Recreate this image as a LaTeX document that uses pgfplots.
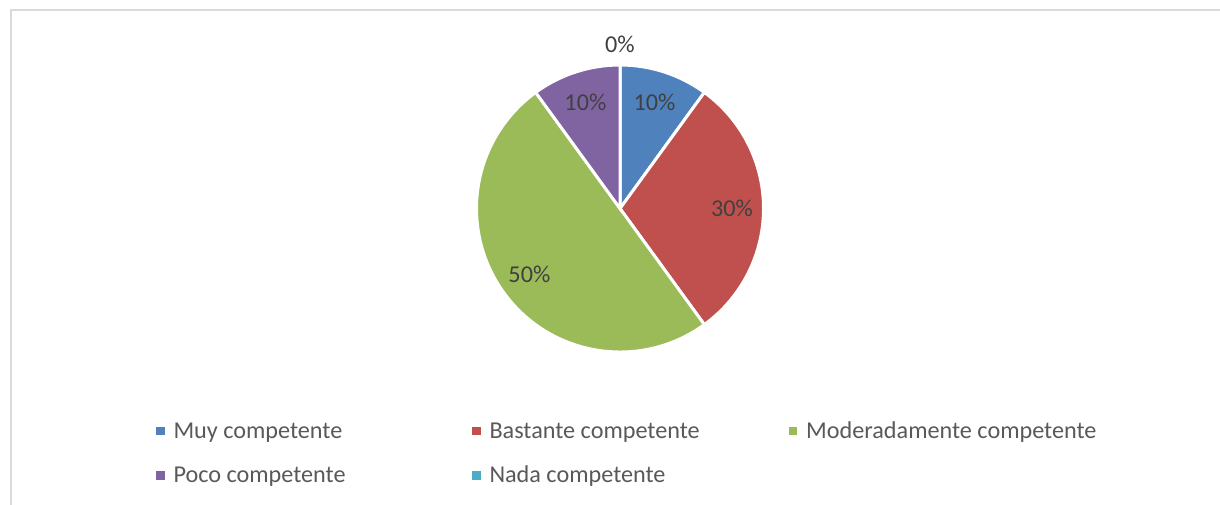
\documentclass[border=0pt]{standalone}
\usepackage{pgfplots}
\usepackage{pgfplotstable}
\pgfplotsset{compat=1.18}
\usepackage{fontspec}
\setmainfont{Carlito}

\definecolor{cMuy}{HTML}{4F81BD}
\definecolor{cBas}{HTML}{C0504D}
\definecolor{cMod}{HTML}{9BBB59}
\definecolor{cPoc}{HTML}{8064A2}
\definecolor{cNad}{HTML}{4BACC6}
\definecolor{labelgray}{HTML}{404040}
\definecolor{legendgray}{HTML}{595959}
\definecolor{framegray}{HTML}{D9D9D9}

% pie data (percent), in Excel order, clockwise from 12 o'clock
\pgfplotstableread{
value color lx ly
10 cMuy 160.3 73
30 cBas 476.3 73
50 cMod 793 73
10 cPoc 160.3 28.7
0 cNad 476.3 28.7
}\piedata

\newcommand{\lblfont}{\fontsize{24.2pt}{26pt}\selectfont}

\begin{document}
\begin{tikzpicture}
\useasboundingbox (0,0) rectangle (1220pt,504pt);
\clip (0,0) rectangle (1220pt,504pt);
\begin{axis}[
  at={(0,0)}, anchor=south west,
  scale only axis, width=1220pt, height=504pt,
  xmin=0, xmax=1220, ymin=0, ymax=504,
  hide axis, clip=false]

% chart frame
\draw[framegray, line width=2pt] (axis cs:11,494.3) rectangle (axis cs:1260,-30);

\def\cx{620}\def\cy{295.5}\def\R{143.5}
\gdef\startang{90}
\pgfplotstablegetrowsof{\piedata}
\pgfmathtruncatemacro{\N}{\pgfplotsretval-1}
\pgfplotsforeachungrouped \i in {0,...,\N}{%
  \pgfplotstablegetelem{\i}{value}\of{\piedata}\let\v\pgfplotsretval
  \pgfplotstablegetelem{\i}{color}\of{\piedata}\let\c\pgfplotsretval
  \pgfmathsetmacro{\endang}{\startang-3.6*\v}%
  \pgfmathsetmacro{\midang}{(\startang+\endang)/2}%
  \pgfmathsetmacro{\lr}{\v>0 ? 112 : 164}%
  \pgfmathsetmacro{\lx}{\cx+\lr*cos(\midang)}%
  \pgfmathsetmacro{\ly}{\cy+\lr*sin(\midang)}%
  \ifdim\v pt>0pt
    \edef\temp{\noexpand\fill[fill=\c, draw=white, line width=3pt, line join=miter]
      (axis cs:\cx,\cy) -- ++(\startang:\R pt)
      arc[start angle=\startang, end angle=\endang, radius=\R pt] -- cycle;}%
    \temp
  \fi
  \edef\temp{\noexpand\node[text=labelgray, inner sep=0pt, font=\noexpand\lblfont]
      at (axis cs:\lx,\ly) {\v\noexpand\%};}%
  \temp
  \xdef\startang{\endang}%
}

% legend
\pgfplotsforeachungrouped \i in {0,...,\N}{%
  \pgfplotstablegetelem{\i}{color}\of{\piedata}\let\c\pgfplotsretval
  \pgfplotstablegetelem{\i}{lx}\of{\piedata}\let\mx\pgfplotsretval
  \pgfplotstablegetelem{\i}{ly}\of{\piedata}\let\my\pgfplotsretval
  \pgfmathsetmacro{\tx}{\mx+13}%
  \pgfmathsetmacro{\ty}{\my-7.5}%
  \ifcase\i \def\lab{Muy competente}\or \def\lab{Bastante competente}\or
    \def\lab{Moderadamente competente}\or \def\lab{Poco competente}\or
    \def\lab{Nada competente}\fi
  \edef\temp{\noexpand\fill[\c] (axis cs:\mx,\my) ++(-4.35pt,-4.35pt) rectangle ++(8.7pt,8.7pt);
    \noexpand\node[anchor=base west, inner sep=0pt, text=legendgray, font=\noexpand\lblfont]
      at (axis cs:\tx,\ty) {\lab};}%
  \temp
}
\end{axis}
\end{tikzpicture}
\end{document}
